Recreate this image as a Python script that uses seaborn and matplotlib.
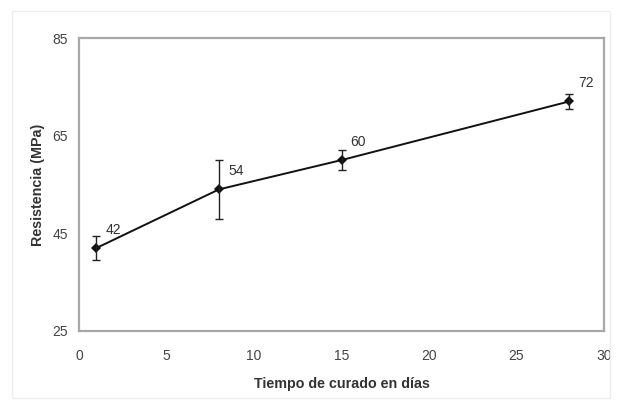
import matplotlib
matplotlib.use("Agg")
import matplotlib.pyplot as plt
import pandas as pd
import seaborn as sns

# Data
dias = [1, 8, 15, 28]
resistencia = [42, 54, 60, 72]
error = [2.4, 6.0, 2.0, 1.6]
etiquetas = ["42", "54", "60", "72"]

sns.set_theme(style="white")
plt.rcParams["font.family"] = ["Liberation Sans", "DejaVu Sans"]

df = pd.DataFrame({"dias": dias, "res": resistencia, "err": error})

fig = plt.figure(figsize=(6.19, 4.03), dpi=100)
ax = fig.add_axes([0.1276, 0.1787, 0.8482, 0.727])

sns.lineplot(data=df, x="dias", y="res", color="#111111", lw=1.4,
             marker="D", markersize=5, markeredgewidth=0, ax=ax)
ax.errorbar(df["dias"], df["res"], yerr=df["err"], fmt="none",
            ecolor="#222222", elinewidth=1.0, capsize=3, capthick=1.0)

for x, y, t in zip(dias, resistencia, etiquetas):
    ax.annotate(t, (x, y), xytext=(9, 11), textcoords="offset pixels",
                fontsize=10, color="#333333", ha="left", va="bottom")

ax.set_xlim(0, 30)
ax.set_ylim(25, 85)
ax.set_xticks([0, 5, 10, 15, 20, 25, 30])
ax.set_yticks([25, 45, 65, 85])
ax.tick_params(axis="both", labelsize=10, colors="#444444", length=0)
ax.tick_params(axis="x", pad=13)
ax.tick_params(axis="y", pad=8)
ax.set_xlabel("Tiempo de curado en días", fontsize=10.3, fontweight="bold",
              color="#333333", labelpad=10)
ax.set_ylabel("Resistencia (MPa)", fontsize=10.3, fontweight="bold",
              color="#333333", labelpad=5)
for s in ax.spines.values():
    s.set_color("#a8a8a8")
    s.set_linewidth(1.6)

# faint outer chart border
fig.patches.append(plt.Rectangle((0.02, 0.012), 0.965, 0.96,
                                 transform=fig.transFigure, fill=False,
                                 edgecolor="#eeeeee", lw=1.0))

fig.savefig("out.png", dpi=100)
